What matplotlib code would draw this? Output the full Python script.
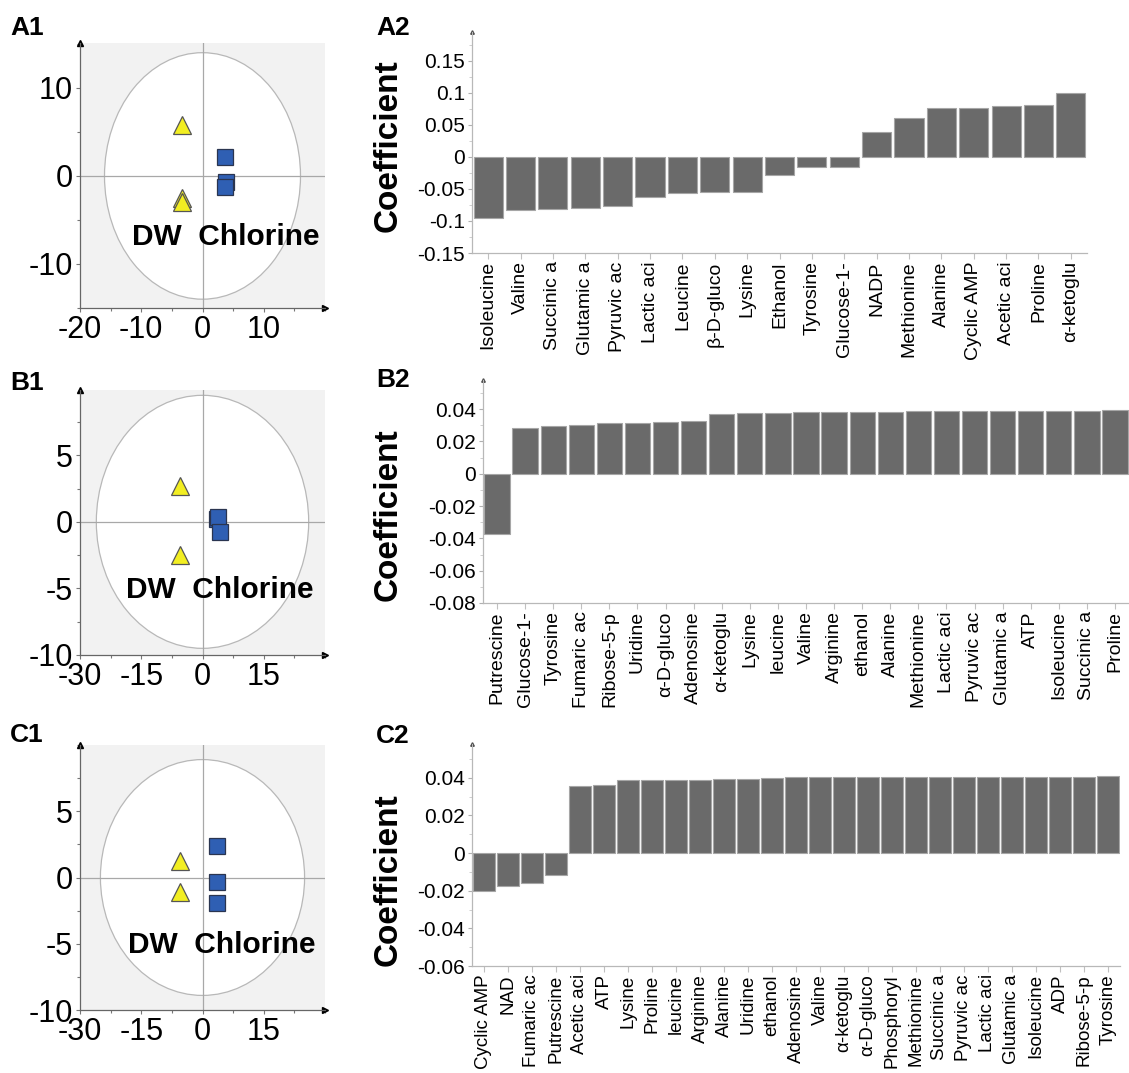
import numpy as np
import matplotlib.pyplot as plt
from matplotlib.patches import Ellipse
from matplotlib.ticker import MultipleLocator, FuncFormatter

plt.rcParams['font.family'] = ['Liberation Sans', 'DejaVu Sans']
plt.rcParams['axes.unicode_minus'] = False

# ---- score plots (left column) ----
a1_dw_x = [-3.4, -3.4, -3.4]
a1_dw_y = [5.8, -2.5, -3.0]
a1_cl_x = [3.6, 3.9, 3.6]
a1_cl_y = [2.2, -0.7, -1.2]

b1_dw_x = [-5.5, -5.5]
b1_dw_y = [2.7, -2.5]
b1_cl_x = [3.5, 3.7, 4.2]
b1_cl_y = [0.2, 0.38, -0.75]

c1_dw_x = [-5.6, -5.6]
c1_dw_y = [1.25, -1.1]
c1_cl_x = [3.5, 3.5, 3.5]
c1_cl_y = [2.35, -0.35, -1.9]

# ---- coefficient plots (right column) ----
a2_names = ["Isoleucine", "Valine", "Succinic a", "Glutamic a", "Pyruvic ac", "Lactic aci",
            "Leucine", "β-D-gluco", "Lysine", "Ethanol", "Tyrosine", "Glucose-1-", "NADP",
            "Methionine", "Alanine", "Cyclic AMP", "Acetic aci", "Proline", "α-ketoglu"]
a2_vals = [-0.095, -0.083, -0.081, -0.080, -0.076, -0.063, -0.056, -0.054, -0.054,
           -0.028, -0.016, -0.016, 0.039, 0.061, 0.077, 0.077, 0.079, 0.081, 0.1005]

b2_names = ["Putrescine", "Glucose-1-", "Tyrosine", "Fumaric ac", "Ribose-5-p", "Uridine",
            "α-D-gluco", "Adenosine", "α-ketoglu", "Lysine", "leucine", "Valine", "Arginine",
            "ethanol", "Alanine", "Methionine", "Lactic aci", "Pyruvic ac", "Glutamic a",
            "ATP", "Isoleucine", "Succinic a", "Proline"]
b2_vals = [-0.0375, 0.0282, 0.0296, 0.0303, 0.0313, 0.0315, 0.0320, 0.0328, 0.0371,
           0.0375, 0.0375, 0.0384, 0.0384, 0.0384, 0.0384, 0.0386, 0.0386, 0.0386,
           0.0388, 0.0391, 0.0391, 0.0391, 0.0393]

c2_names = ["Cyclic AMP", "NAD", "Fumaric ac", "Putrescine", "Acetic aci", "ATP", "Lysine",
            "Proline", "leucine", "Arginine", "Alanine", "Uridine", "ethanol", "Adenosine",
            "Valine", "α-ketoglu", "α-D-gluco", "Phosphoryl", "Methionine", "Succinic a",
            "Pyruvic ac", "Lactic aci", "Glutamic a", "Isoleucine", "ADP", "Ribose-5-p",
            "Tyrosine"]
c2_vals = [-0.0200, -0.0176, -0.0158, -0.0118, 0.0356, 0.0364, 0.0386, 0.0388, 0.0388,
           0.0388, 0.0393, 0.0395, 0.0398, 0.0402, 0.0402, 0.0402, 0.0402, 0.0402,
           0.0404, 0.0404, 0.0404, 0.0404, 0.0404, 0.0405, 0.0407, 0.0407, 0.0409]

W, H = 1129, 1073
fig = plt.figure(figsize=(W / 100, H / 100), dpi=100)


def px_axes(left, top, right, bottom):
    return fig.add_axes([left / W, 1 - bottom / H, (right - left) / W, (bottom - top) / H])


def fmt(v, pos):
    return f"{round(v, 4):g}"


def score_panel(ax, dw_x, dw_y, cl_x, cl_y, xlim, ylim, xticks, yticks, ell_w, ell_h, txt_pos):
    ax.set_facecolor('#f2f2f2')
    ax.add_patch(Ellipse((0, 0), 2 * ell_w, 2 * ell_h, facecolor='white',
                         edgecolor='#b8b8b8', linewidth=0.9, zorder=1))
    ax.axhline(0, color='#a8a8a8', linewidth=0.9, zorder=2)
    ax.axvline(0, color='#a8a8a8', linewidth=0.9, zorder=2)
    ax.plot(dw_x, dw_y, linestyle='none', marker='^', markersize=13,
            markerfacecolor='#f2ee22', markeredgecolor='#555555', markeredgewidth=0.9, zorder=3)
    ax.plot(cl_x, cl_y, linestyle='none', marker='s', markersize=11,
            markerfacecolor='#2f5fb3', markeredgecolor='#2a3550', markeredgewidth=0.9, zorder=3)
    ax.set_xlim(*xlim)
    ax.set_ylim(*ylim)
    ax.set_xticks(xticks)
    ax.set_yticks(yticks)
    ax.xaxis.set_minor_locator(MultipleLocator((xticks[1] - xticks[0]) / 2))
    ax.yaxis.set_minor_locator(MultipleLocator((yticks[1] - yticks[0]) / 2))
    ax.tick_params(which='both', labelsize=22, color='#777777', length=3, width=0.8, pad=2)
    ax.tick_params(which='minor', length=2)
    for s in ['top', 'right']:
        ax.spines[s].set_visible(False)
    for s in ['left', 'bottom']:
        ax.spines[s].set_color('#666666')
        ax.spines[s].set_linewidth(0.9)
    ax.plot(0, 1, marker='^', markersize=4, color='black', transform=ax.transAxes, clip_on=False)
    ax.plot(1, 0, marker='>', markersize=4, color='black', transform=ax.transAxes, clip_on=False)
    ax.text(txt_pos[0], txt_pos[1], 'DW  Chlorine', transform=ax.transAxes, fontsize=21.5,
            fontweight='bold', ha='left', va='baseline', zorder=4)


def bar_panel(ax, names, vals, ylim, step, xfs=14):
    x = np.arange(len(names))
    ax.bar(x, vals, width=0.9, color='#6a6a6a', edgecolor='#a6a6a6', linewidth=0.8)
    ax.set_xlim(-0.5, len(names) - 0.5)
    ax.set_ylim(*ylim)
    ax.set_xticks(x)
    ax.set_xticklabels(names, rotation=90, fontsize=xfs)
    ax.yaxis.set_major_locator(MultipleLocator(step))
    ax.yaxis.set_minor_locator(MultipleLocator(step / 2))
    ax.yaxis.set_major_formatter(FuncFormatter(fmt))
    ax.tick_params(axis='y', which='major', labelsize=15, length=3, pad=2, color='#b0b0b0')
    ax.tick_params(axis='y', which='minor', length=2, color='#c8c8c8')
    ax.tick_params(axis='x', length=4, pad=2, color='#c0c0c0')
    for s in ['top', 'right']:
        ax.spines[s].set_visible(False)
    for s in ['left', 'bottom']:
        ax.spines[s].set_color('#b8b8b8')
        ax.spines[s].set_linewidth(0.9)
    ax.plot(0, 1, marker='^', markersize=2.5, color='#444444', transform=ax.transAxes, clip_on=False)


ax_a1 = px_axes(80, 43, 325, 308)
score_panel(ax_a1, a1_dw_x, a1_dw_y, a1_cl_x, a1_cl_y, (-20, 20), (-15, 15.1),
            [-20, -10, 0, 10], [-10, 0, 10], 16, 14, (0.212, 0.238))

ax_b1 = px_axes(80, 390, 325, 655)
score_panel(ax_b1, b1_dw_x, b1_dw_y, b1_cl_x, b1_cl_y, (-30, 30), (-10, 9.9),
            [-30, -15, 0, 15], [-10, -5, 0, 5], 26, 9.5, (0.188, 0.215))

ax_c1 = px_axes(80, 745, 325, 1010)
score_panel(ax_c1, c1_dw_x, c1_dw_y, c1_cl_x, c1_cl_y, (-30, 30), (-10, 10),
            [-30, -15, 0, 15], [-10, -5, 0, 5], 25, 8.9, (0.196, 0.215))

ax_a2 = px_axes(472, 32, 1087, 253)
bar_panel(ax_a2, a2_names, a2_vals, (-0.15, 0.195), 0.05)

ax_b2 = px_axes(483, 380, 1129, 603)
bar_panel(ax_b2, b2_names, b2_vals, (-0.08, 0.058), 0.02)

ax_c2 = px_axes(472, 744, 1120, 966)
bar_panel(ax_c2, c2_names, c2_vals, (-0.06, 0.058), 0.02, xfs=13.5)

for y in [146, 515, 880]:
    fig.text(388 / W, 1 - y / H, 'Coefficient', rotation=90, fontsize=24, fontweight='bold',
             ha='center', va='center')

for lab, x, y in [('A1', 10, 35), ('B1', 10, 390), ('C1', 10, 742),
                  ('A2', 376, 35), ('B2', 376, 387), ('C2', 376, 743)]:
    fig.text(x / W, 1 - y / H, lab, fontsize=19, fontweight='bold', ha='left', va='baseline')

fig.savefig('out.png', dpi=100)
plt.close(fig)
